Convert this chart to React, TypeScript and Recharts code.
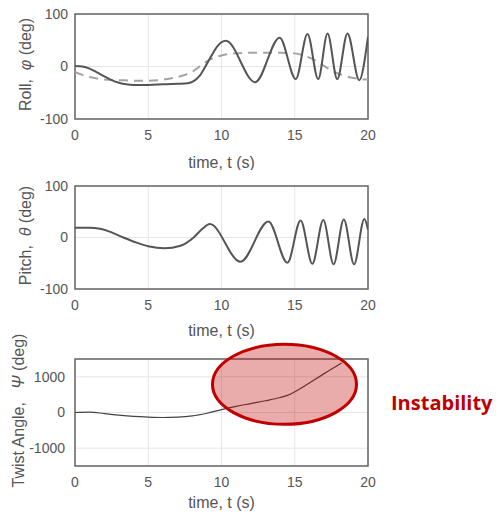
import React from 'react';
import { LineChart, Line, XAxis, YAxis, CartesianGrid, ReferenceArea, ReferenceDot } from 'recharts';

const timeTicks = [0, 5, 10, 15, 20];
const angleTicks = [-100, 0, 100];
const twistTicks = [-1000, 0, 1000];

const rollTime = [0, 0.5, 1, 1.5, 2, 2.5, 3, 3.5, 4, 5, 6, 7, 7.7, 8.1, 8.5, 8.9, 9.3, 9.7, 10.3, 12.3, 13.97, 15.07, 15.87, 16.6, 17.24, 17.9, 18.6, 19.4, 20];
const rollValues = [1, 0, -4, -11, -19, -26, -31, -34, -35, -35, -34, -33, -32, -28, -18, 0, 20, 38, 49, -30, 55, -24, 62, -24, 63, -24, 63, -26, 57];

const rollRefTime = [0, 0.5, 1, 1.5, 2, 3, 4, 5, 6, 6.5, 7, 7.5, 8, 8.6, 9.2, 10, 11, 12, 13, 14, 15, 15.7, 16.3, 17, 17.6, 18.2, 19, 20];
const rollRefValues = [-11, -16, -20, -23, -25, -26, -27, -27, -25, -23, -20, -16, -10, 2, 13, 21, 25, 26, 26, 26, 25, 20, 13, 1, -9, -16, -22, -25];

const pitchTime = [0, 1, 1.7, 2.5, 3.3, 4.2, 5, 6.1, 7.2, 8.1, 8.7, 9.2, 11.3, 13.2, 14.5, 15.4, 16.2, 16.95, 17.65, 18.35, 19.05, 19.75, 20];
const pitchValues = [19, 19, 17, 10, 0, -10, -17, -21, -16, 0, 17, 26, -47, 31, -49, 33, -51, 34, -52, 35, -52, 36, 15];

const twistTime = [0, 1, 2, 3, 4, 5, 6, 7, 8, 9, 10, 11, 12, 13, 14, 14.5, 15, 16, 17, 18.2];
const twistValues = [0, 10, -30, -75, -110, -130, -140, -130, -95, -20, 80, 170, 250, 330, 420, 480, 580, 830, 1090, 1390];

const unstableCenter = { t: 14.3, v: 790 };

const zip = (ts: number[], vs: number[]) => ts.map((t, i) => ({ t, v: vs[i] }));

const rollData = zip(rollTime, rollValues);
const rollRefData = zip(rollRefTime, rollRefValues);
const pitchData = zip(pitchTime, pitchValues);
const twistData = zip(twistTime, twistValues);

const FONT = '"Liberation Sans", Arial, sans-serif';
const TEXT = '#555';

const YLabel = (props: any) => {
  const { viewBox, pre, sym, cx } = props;
  const cy = viewBox.y + viewBox.height / 2 + (props.shift || 0);
  return (
    <text
      x={cx}
      y={cy}
      transform={`rotate(-90 ${cx} ${cy})`}
      textAnchor="middle"
      dominantBaseline="central"
      fill={TEXT}
      fontSize={16}
      fontFamily={FONT}
    >
      {pre}
      <tspan fontStyle="italic">{sym}</tspan>
      {' (deg)'}
    </text>
  );
};

const XLabel = (props: any) => {
  const { viewBox, dy } = props;
  return (
    <text
      x={viewBox.x + viewBox.width / 2}
      y={viewBox.y + dy}
      textAnchor="middle"
      dominantBaseline="central"
      fill={TEXT}
      fontSize={16}
      fontFamily={FONT}
    >
      time, t (s)
    </text>
  );
};

const tickStyle = { fill: TEXT, fontSize: 14, fontFamily: FONT };

const Panel = (props: any) => {
  const { top, height, yTicks, domain, label, labelCx, xLabelDy, children, labelShift, marginTop, yTickGap } = props;
  return (
    <div style={{ position: 'absolute', left: 0, top }}>
      <LineChart width={380} height={height} margin={{ top: marginTop, right: 12, left: 0, bottom: 11 }}>
        <CartesianGrid stroke="#e6e6e6" strokeWidth={1} />
        <XAxis
          type="number"
          dataKey="t"
          domain={[0, 20]}
          ticks={timeTicks}
          allowDataOverflow
          tickLine={false}
          axisLine={false}
          tickSize={0}
          tickMargin={11}
          tick={tickStyle}
          height={40}
          label={<XLabel dy={xLabelDy} />}
        />
        <YAxis
          type="number"
          dataKey="v"
          domain={domain}
          ticks={yTicks}
          allowDataOverflow
          tickLine={false}
          axisLine={false}
          tickSize={0}
          tickMargin={yTickGap}
          tick={tickStyle}
          width={75}
          label={<YLabel pre={label[0]} sym={label[1]} cx={labelCx} shift={labelShift} />}
        />
        <ReferenceArea x1={0} x2={20} y1={domain[0]} y2={domain[1]} fill="none" stroke="#666" strokeWidth={1.5} />
        {children}
      </LineChart>
    </div>
  );
};

export default function App() {
  return (
    <div style={{ position: 'absolute', left: 0, top: 0, width: 496, height: 514, background: '#fff' }}>
      <Panel top={0} marginTop={14} height={170} yTicks={angleTicks} domain={[-100, 100]} label={['Roll,\u00A0 ', '\u03C6']} labelCx={25} xLabelDy={43} labelShift={-2} yTickGap={7}>
        <Line data={rollRefData} dataKey="v" type="monotone" stroke="#a3a3a3" strokeWidth={2} strokeDasharray="9 6" dot={false} isAnimationActive={false} />
        <Line data={rollData} dataKey="v" type="monotone" stroke="#555" strokeWidth={2} dot={false} isAnimationActive={false} />
      </Panel>
      <Panel top={172} marginTop={14} height={168} yTicks={angleTicks} domain={[-100, 100]} label={['Pitch,\u00A0 ', '\u03B8']} labelCx={25} xLabelDy={41} labelShift={-2} yTickGap={7}>
        <Line data={pitchData} dataKey="v" type="monotone" stroke="#555" strokeWidth={2} dot={false} isAnimationActive={false} />
      </Panel>
      <Panel top={325} marginTop={34} height={192} yTicks={twistTicks} domain={[-1500, 1500]} label={['Twist Angle,\u00A0\u00A0 ', '\u03A8']} labelCx={18} xLabelDy={36} labelShift={-2} yTickGap={10}>
        <Line data={twistData} dataKey="v" type="monotone" stroke="#444" strokeWidth={1.2} dot={false} isAnimationActive={false} />
        <ReferenceDot
          x={unstableCenter.t}
          y={unstableCenter.v}
          ifOverflow="visible"
          shape={(p: any) => (
            <ellipse cx={p.cx} cy={p.cy} rx={72} ry={40} fill="rgba(192,0,0,0.33)" stroke="#c00000" strokeWidth={3} />
          )}
        />
      </Panel>
      <div
        style={{
          position: 'absolute',
          left: 391,
          top: 391,
          fontFamily: '"Open Sans", sans-serif',
          fontWeight: 700,
          fontSize: 20,
          lineHeight: '24px',
          color: '#c00000',
        }}
      >
        Instability
      </div>
    </div>
  );
}
